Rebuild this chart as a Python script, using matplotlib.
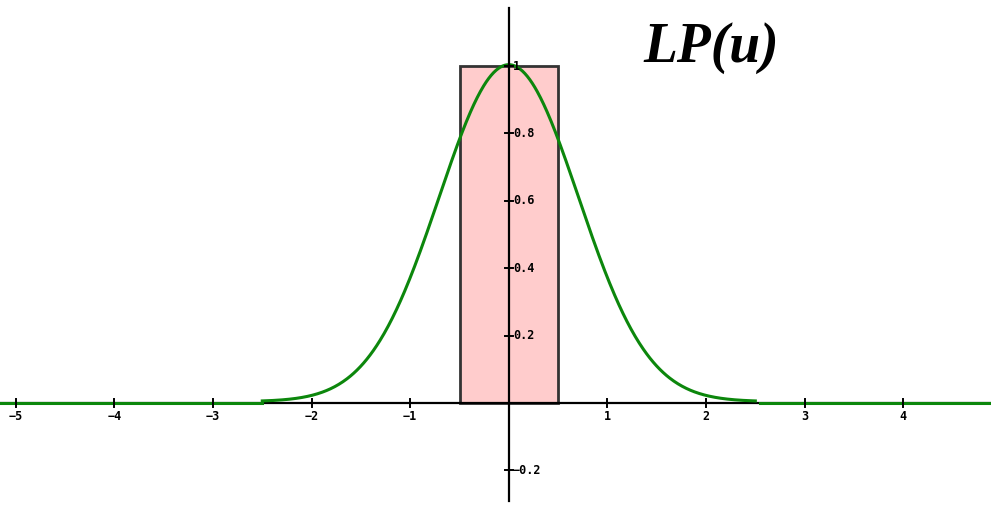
import numpy as np
import matplotlib.pyplot as plt
from matplotlib.patches import Rectangle

# ideal low-pass window and its gaussian counterpart
rect_edges = [-0.5, 0.5]
rect_height = 1.0
curve_span = [-2.5, 2.5]
x_ticks = [-5, -4, -3, -2, -1, 1, 2, 3, 4]
y_ticks = [-0.2, 0.2, 0.4, 0.6, 0.8, 1]
y_labels = ["-0.2", "0.2", "0.4", "0.6", "0.8", "1"]


def main():
    fig = plt.figure(figsize=(9.91, 5.05), dpi=100)
    ax = fig.add_axes([0, 0, 1, 1])
    xmin, xmax = -5.16, 4.89
    ymin, ymax = -0.303, 1.196
    ax.set_xlim(xmin, xmax)
    ax.set_ylim(ymin, ymax)
    ax.axis('off')

    # coordinate axes
    ax.plot([xmin, xmax], [0, 0], color='black', lw=1.6, zorder=2)
    ax.plot([0, 0], [-0.29, 1.172], color='black', lw=1.6, zorder=4)

    # rectangle
    ax.add_patch(Rectangle((rect_edges[0], 0), rect_edges[1] - rect_edges[0], rect_height,
                           facecolor='#ffcccc', edgecolor='#333333', lw=2.0, zorder=1))

    # gaussian curve exp(-u^2), flat outside its span
    green = '#0c870c'
    u = np.linspace(curve_span[0], curve_span[1], 600)
    ax.plot(u, np.exp(-u ** 2) + 0.004, color=green, lw=2.2, zorder=3)
    ax.plot([xmin, curve_span[0]], [0, 0], color=green, lw=2.2, zorder=3)
    ax.plot([curve_span[1] + 0.05, xmax], [0, 0], color=green, lw=2.2, zorder=3)

    # ticks and labels
    for t in x_ticks:
        ax.plot([t, t], [-0.012, 0.012], color='black', lw=1.4, zorder=5)
        ax.text(t, -0.022, str(t).replace('-', '\u2212'), ha='center', va='top',
                fontsize=8.5, fontweight='bold', family='DejaVu Sans Mono', zorder=5)
    for t, lab in zip(y_ticks, y_labels):
        ax.plot([-0.04, 0.04], [t, t], color='black', lw=1.4, zorder=5)
        ax.text(0.04, t, lab.replace('-', '\u2212'), ha='left', va='center',
                fontsize=8.5, fontweight='bold', family='DejaVu Sans Mono', zorder=5)

    ax.text(2.05, 1.055, 'LP(u)', fontsize=40, fontweight='bold', fontstyle='italic',
            family='Liberation Serif', ha='center', va='center')

    fig.savefig('out.png', dpi=100)


if __name__ == "__main__":
    main()
